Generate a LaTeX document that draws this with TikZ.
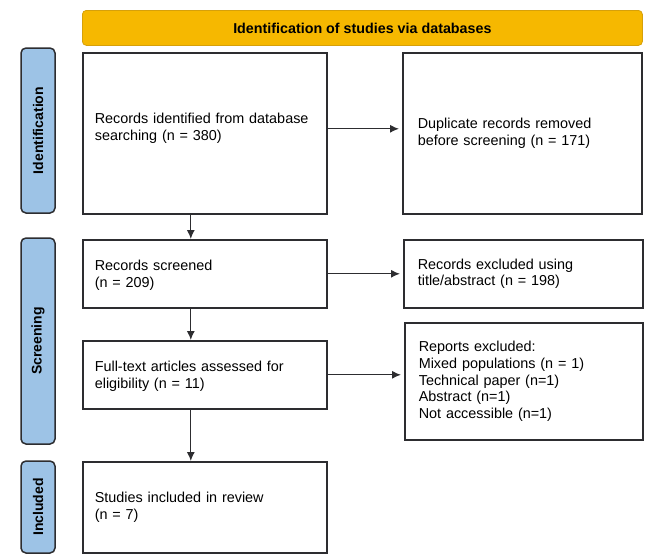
\documentclass[tikz,border=0pt]{standalone}
\usepackage{fontspec}
\setmainfont{Liberation Sans}
\usetikzlibrary{arrows.meta}

\definecolor{headfill}{RGB}{246,184,0}
\definecolor{headline}{RGB}{214,160,10}
\definecolor{phasefill}{RGB}{157,195,230}
\definecolor{edgec}{RGB}{45,45,48}

\begin{document}
\begin{tikzpicture}[x=1pt,y=-1pt,
  body/.style={font=\fontsize{14.4}{16.8}\selectfont},
  box/.style={draw=edgec, line width=1.6pt, fill=white, align=left,
              inner xsep=12pt, inner ysep=0pt, anchor=north west, body},
  header/.style={draw=headline, line width=0.8pt, fill=headfill,
                 rounded corners=4pt, anchor=north west,
                 font=\bfseries\fontsize{14.3}{16}\selectfont},
  phase/.style={draw=edgec, line width=1.5pt, fill=phasefill,
                rounded corners=5pt, rotate=90, minimum height=34pt,
                inner sep=0pt, font=\bfseries\fontsize{14}{15}\selectfont},
  arr/.style={draw=edgec, line width=1.2pt,
              -{Latex[length=9pt,width=8pt]}},
]
\useasboundingbox (0,0) rectangle (650,555);

% banner
\node[header, minimum width=560pt, minimum height=35pt] (hdr) at (82,10)
  {Identification of studies via databases};

% phase labels on the left
\node[phase, minimum width=165pt] (lid) at (38,130.5) {Identification};
\node[phase, minimum width=206pt] (lsc) at (38,341) {Screening};
\node[phase, minimum width=92pt]  (lin) at (38,507) {Included};

% main column
\node[box, text width=220pt, minimum height=161pt] (A) at (82,52)
  {Records identified from database\\searching (n = 380)\\[-4pt]\mbox{}};
\node[box, text width=220pt, minimum height=68pt] (C) at (82,239)
  {\\[-4pt]Records screened\\(n = 209)};
\node[box, text width=220pt, minimum height=68pt] (E) at (82,340)
  {\\[-3pt]Full-text articles assessed for\\eligibility (n = 11)};
\node[box, text width=220pt, minimum height=91pt] (F) at (82,461)
  {Studies included in review\\(n = 7)};

% exclusions column
\node[box, inner xsep=15pt, text width=209pt, minimum height=161pt] (B) at (402,52)
  {Duplicate records removed\\before screening (n = 171)};
\node[box, inner xsep=14pt, text width=211pt, minimum height=68pt] (D) at (403,239)
  {Records excluded using\\title/abstract (n = 198)};
\node[box, inner xsep=14pt, text width=210pt, minimum height=117pt] (G) at (404,322)
  {Reports excluded:\\Mixed populations (n = 1)\\Technical paper (n=1)\\Abstract (n=1)\\Not accessible (n=1)};

% flow down the main column
\draw[arr] ([xshift=-14pt]A.south) -- ([xshift=-14pt]C.north);
\draw[arr] ([xshift=-14pt]C.south) -- ([xshift=-14pt]E.north);
\draw[arr] ([xshift=-14pt]E.south) -- ([xshift=-14pt]F.north);

% exclusions
\draw[arr, shorten >=3pt] ([yshift=4.5pt]A.east) -- ([yshift=4.5pt]A.east -| B.west);
\draw[arr, shorten >=3pt] (C.east) -- (C.east -| D.west);
\draw[arr, shorten >=3pt] (E.east) -- (E.east -| G.west);
\end{tikzpicture}
\end{document}
